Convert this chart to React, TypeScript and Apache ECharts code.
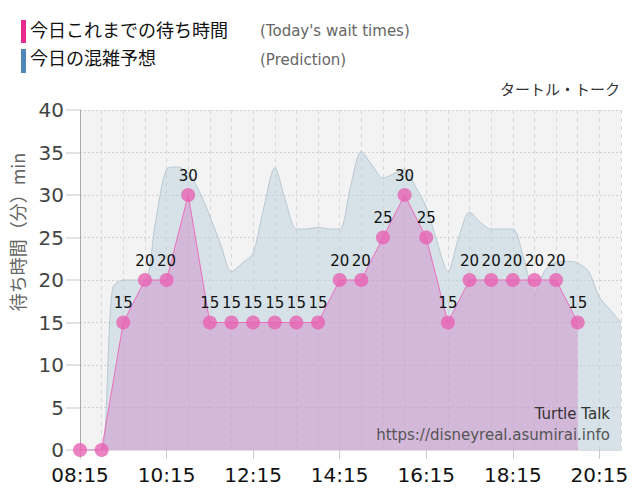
import React, { useEffect, useRef } from "react";
import * as echarts from "echarts";

const categories = [
  "08:15","08:30","08:45","09:00","09:15","09:30","09:45","10:00","10:15","10:30","10:45","11:00",
  "11:15","11:30","11:45","12:00","12:15","12:30","12:45","13:00","13:15","13:30","13:45","14:00",
  "14:15","14:30","14:45","15:00","15:15","15:30","15:45","16:00","16:15","16:30","16:45","17:00",
  "17:15","17:30","17:45","18:00","18:15","18:30","18:45","19:00","19:15","19:30","19:45","20:00",
  "20:15","20:30","20:45",
];

const predictionValues = [
  0, 0, 0, 19, 20, 20, 20, 27, 33, 33.3, 32.6, 30.5,
  27.5, 24.2, 21, 22, 23.2, 28.6, 33.2, 29.3, 26, 26, 26.2, 26,
  26, 31, 35.1, 33.5, 32, 32.5, 33, 31, 28.6, 24.5, 21, 25,
  28, 26.8, 26, 26, 26, 22.6, 18.5, 21.2, 22.1, 22.2, 22, 21,
  18, 16.5, 15,
];

const actualTimes = [
  "08:15","08:45","09:15","09:45","10:15","10:45","11:15","11:45","12:15","12:45","13:15","13:45",
  "14:15","14:45","15:15","15:45","16:15","16:45","17:15","17:45","18:15","18:45","19:15","19:45",
];
const actualValues = [
  0, 0, 15, 20, 20, 30, 15, 15, 15, 15, 15, 15,
  20, 20, 25, 30, 25, 15, 20, 20, 20, 20, 20, 15,
];

const JP = '"Noto Sans CJK JP", sans-serif';
const LAT = '"DejaVu Sans", Verdana, sans-serif';

export default function App() {
  const ref = useRef<HTMLDivElement>(null);
  useEffect(() => {
    if (!ref.current) return;
    const chart = echarts.init(ref.current, undefined, { renderer: "svg" });
    chart.setOption({
      animation: false,
      backgroundColor: "#ffffff",
      grid: { left: 80, right: 19, top: 110, bottom: 50, show: true, backgroundColor: "#f3f3f3", borderWidth: 0 },
      xAxis: {
        type: "category",
        data: categories,
        boundaryGap: false,
        axisLine: { show: true, lineStyle: { color: "#dddddd", width: 1 } },
        axisTick: { show: true, interval: (i: number) => i % 8 === 0, length: 9, lineStyle: { color: "#cccccc" } },
        axisLabel: { interval: 7, fontSize: 20, color: "#111111", fontFamily: LAT, margin: 15 },
        splitLine: {
          show: true,
          interval: (i: number) => i % 2 === 0,
          lineStyle: { color: "#d6d6d6", type: [4, 4], width: 1 },
        },
      },
      yAxis: {
        type: "value",
        min: 0,
        max: 40,
        interval: 5,
        axisLine: { show: true, lineStyle: { color: "#aaaaaa", width: 1 } },
        axisTick: { show: true, length: 14, lineStyle: { color: "#e2e2e2", width: 2 } },
        axisLabel: { fontSize: 20, color: "#444444", fontFamily: LAT, margin: 16 },
        splitLine: { show: true, lineStyle: { color: "#d0d0d0", type: [2, 2], width: 1 } },
      },
      series: [
        {
          name: "prediction",
          type: "line",
          data: predictionValues,
          smooth: 0.3,
          showSymbol: false,
          symbol: "none",
          lineStyle: { color: "#b9c8d3", width: 1 },
          areaStyle: { color: "rgba(186,207,221,0.5)", opacity: 1 },
          z: 2,
        },
        {
          name: "actual",
          type: "line",
          data: actualTimes.map((t, i) => [t, actualValues[i]]),
          smooth: false,
          symbol: "circle",
          symbolSize: 14,
          showSymbol: true,
          showAllSymbol: true,
          itemStyle: { color: "rgba(232,96,178,0.78)" },
          lineStyle: { color: "#ea6fbb", width: 1 },
          areaStyle: { color: "rgba(208,130,196,0.43)", opacity: 1 },
          label: {
            show: true,
            position: "top",
            distance: 5,
            fontSize: 15,
            color: "#111111",
            fontFamily: LAT,
            formatter: (p: any) => (p.value[1] > 0 ? String(p.value[1]) : ""),
          },
          labelLayout: { hideOverlap: false },
          z: 3,
        },
      ],
      graphic: [
        { type: "rect", left: 21, top: 20, z: 100, shape: { width: 5, height: 23 }, style: { fill: "#ea2a8e" } },
        { type: "text", left: 30, top: 20, z: 100, style: { text: "今日これまでの待ち時間", fontSize: 18, fontFamily: JP, fill: "#111" } },
        { type: "text", left: 260, top: 23, z: 100, style: { text: "(Today's wait times)", fontSize: 15, fontFamily: LAT, fill: "#666" } },
        { type: "rect", left: 21, top: 49, z: 100, shape: { width: 5, height: 24 }, style: { fill: "#4f87b8" } },
        { type: "text", left: 30, top: 48, z: 100, style: { text: "今日の混雑予想", fontSize: 18, fontFamily: JP, fill: "#111" } },
        { type: "text", left: 260, top: 52, z: 100, style: { text: "(Prediction)", fontSize: 15, fontFamily: LAT, fill: "#666" } },
        { type: "text", right: 20, top: 81, z: 100, style: { text: "タートル・トーク", fontSize: 15, fontFamily: JP, fill: "#333" } },
        {
          type: "text",
          x: 17,
          y: 232,
          z: 100,
          rotation: Math.PI / 2,
          style: { text: "待ち時間（分）min", fontSize: 18, fontFamily: JP, fill: "#666", align: "center", verticalAlign: "middle" },
        },
        { type: "text", right: 30, top: 406, z: 100, style: { text: "Turtle Talk", fontSize: 15, fontFamily: LAT, fill: "#333" } },
        { type: "text", right: 30, top: 427, z: 100, style: { text: "https://disneyreal.asumirai.info", fontSize: 15, fontFamily: LAT, fill: "#555" } },
      ],
    });
    return () => chart.dispose();
  }, []);
  return <div ref={ref} style={{ width: 640, height: 500, position: "absolute", left: 0, top: 0 }} />;
}
